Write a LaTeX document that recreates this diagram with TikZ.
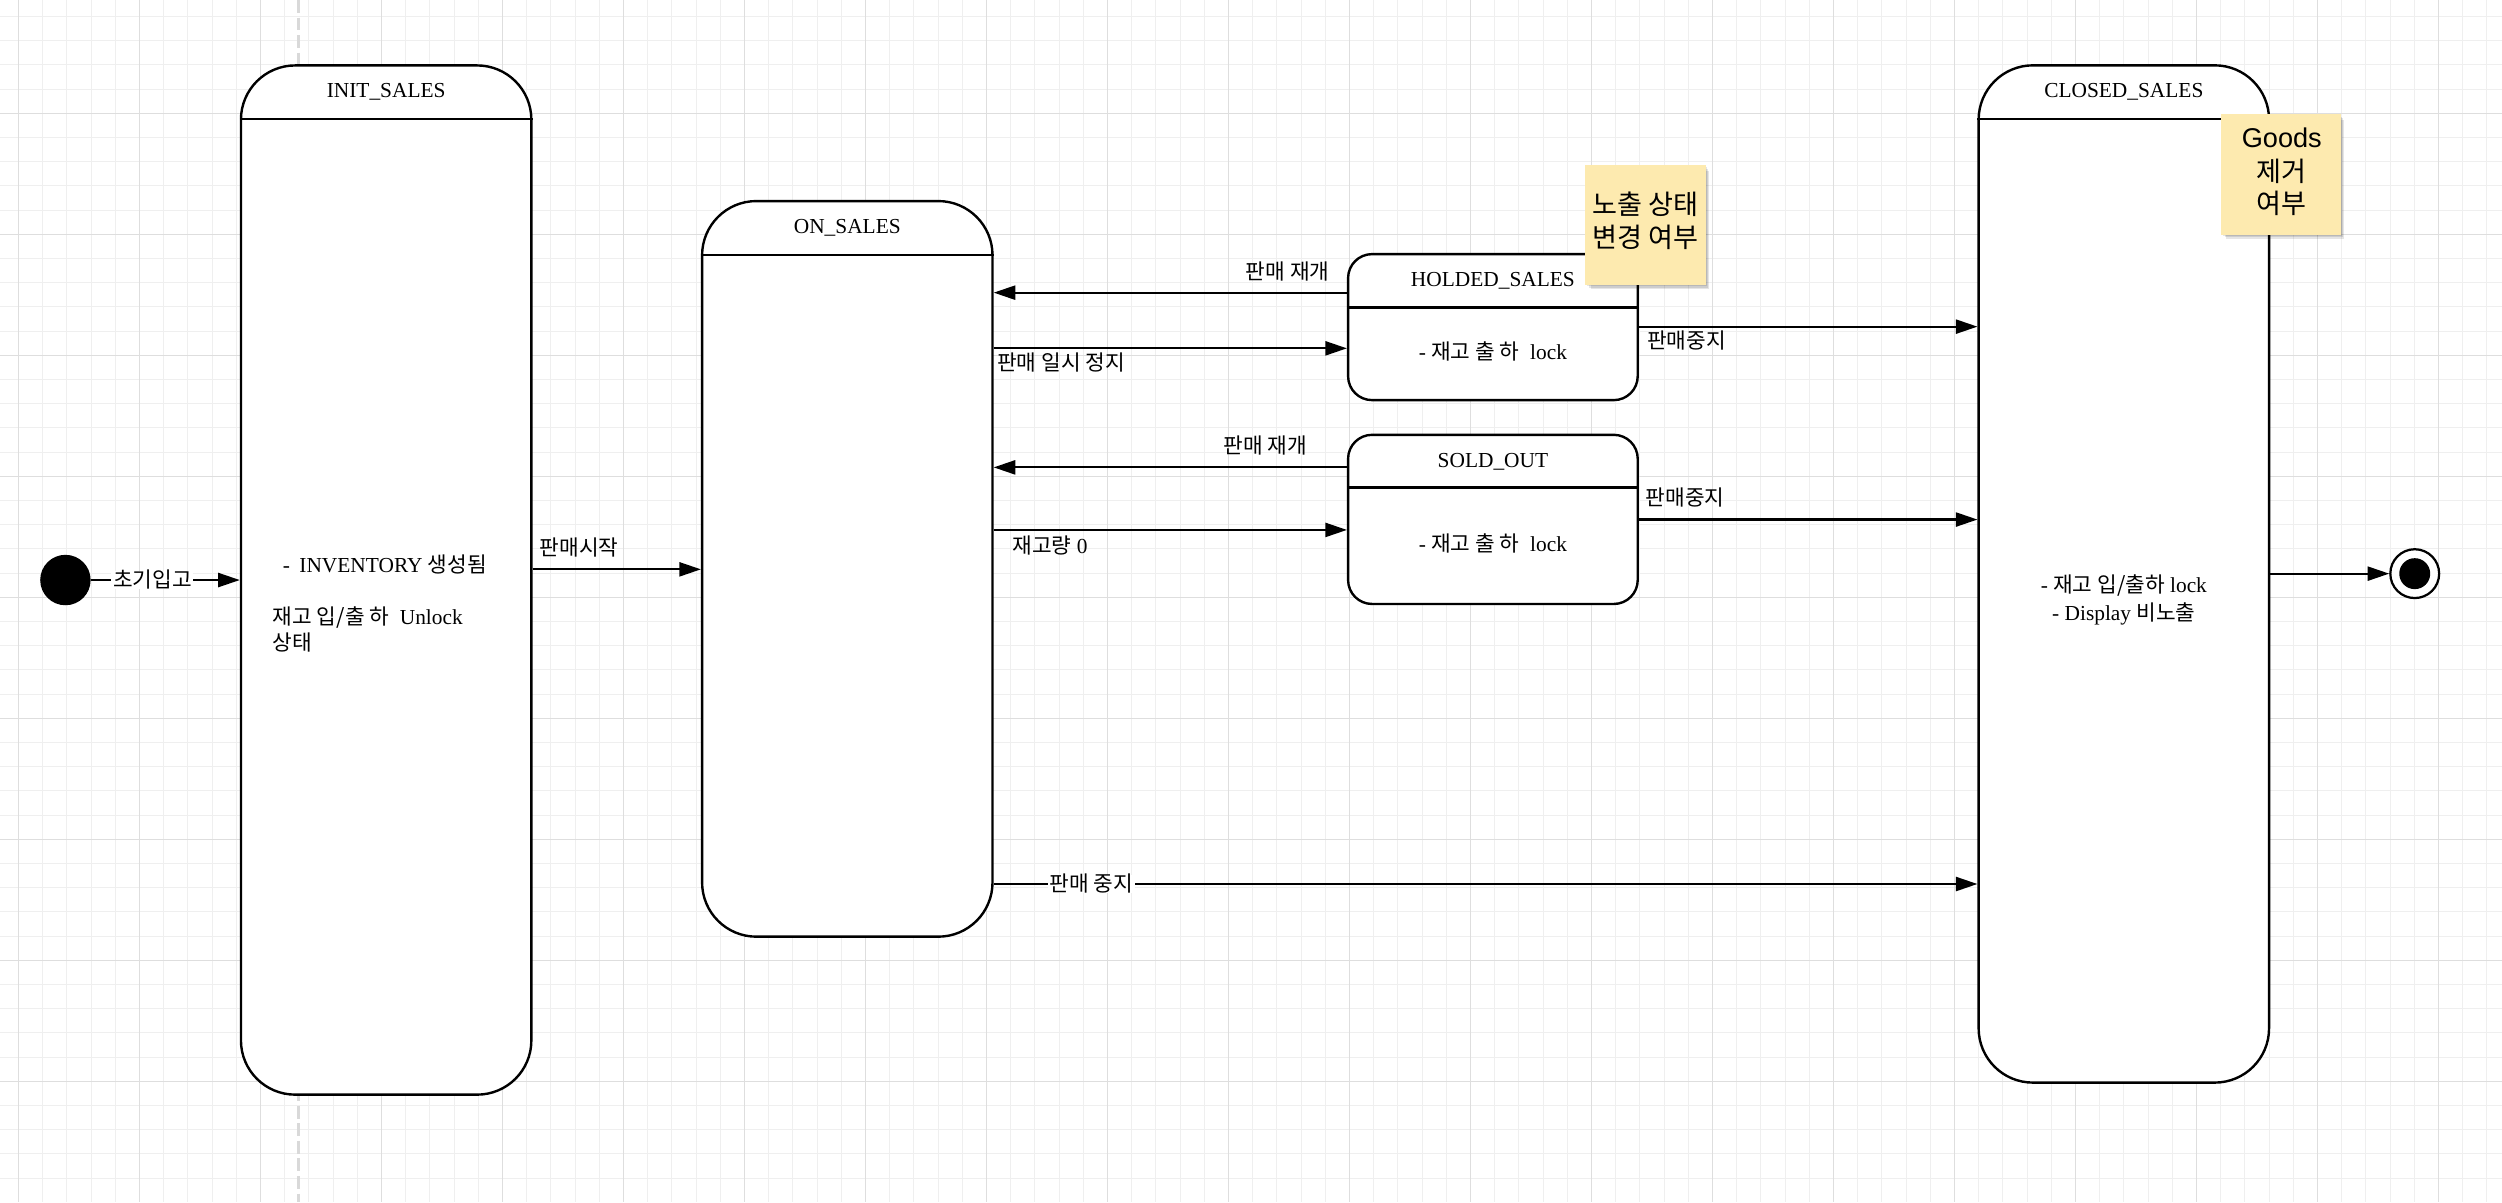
\documentclass[tikz,border=0pt]{standalone}
\usepackage{fontspec}
\setmainfont{Liberation Serif}
\newfontfamily\krfont{Noto Sans CJK KR}
\newfontfamily\notefont{Liberation Sans}
\usetikzlibrary{arrows.meta}
\definecolor{gridminor}{HTML}{EFEFEF}
\definecolor{gridmajor}{HTML}{DEDEDE}
\definecolor{dashgray}{HTML}{D9D9D9}
\definecolor{notefill}{RGB}{253,234,175}
\newcommand{\kor}[1]{{\krfont\fontsize{13.4}{15}\selectfont #1}}
\newcommand{\kornote}[1]{{\krfont\fontsize{17}{19}\selectfont #1}}
\begin{document}
\begin{tikzpicture}[x=1pt,y=-1pt,
  statebox/.style={draw=black, line width=1.5pt, fill=white, rounded corners=34pt, inner sep=0pt},
  smallbox/.style={statebox, rounded corners=15pt},
  hdr/.style={line width=1.5pt},
  title/.style={font=\fontsize{13.4}{16}\selectfont, inner sep=0pt, text height=9pt, text depth=0pt},
  lbl/.style={font=\fontsize{13.4}{16}\selectfont, inner sep=1pt, text height=9.5pt, text depth=0pt},
  trans/.style={line width=1.35pt, -{Triangle[length=13.5pt,width=8.8pt]}},
  note/.style={fill=notefill, inner sep=0pt},
  notetext/.style={font=\notefont\fontsize{17}{19}\selectfont, inner sep=0pt, text height=12pt, text depth=0pt},
  shadowbox/.style={fill=black, opacity=0.10}
]
% background and bounding box
\fill[white] (0,0) rectangle (1568,753.3);
\useasboundingbox (0,0) rectangle (1568,753.3);
% grid
\foreach \i in {0,...,102} {
  \pgfmathsetmacro\gx{11.6+\i*15.166}
  \draw[gridminor, line width=0.6pt] (\gx,0) -- (\gx,753.3);
}
\foreach \j in {0,...,48} {
  \pgfmathsetmacro\gy{10.3+\j*15.166}
  \draw[gridminor, line width=0.6pt] (0,\gy) -- (1568,\gy);
}
\foreach \i in {0,...,20} {
  \pgfmathsetmacro\gx{11.6+\i*75.83}
  \draw[gridmajor, line width=0.7pt] (\gx,0) -- (\gx,753.3);
}
\foreach \j in {0,...,8} {
  \pgfmathsetmacro\gy{71.0+\j*75.83}
  \draw[gridmajor, line width=0.7pt] (0,\gy) -- (1568,\gy);
}
% dashed guide line
\draw[dashgray, line width=2pt, dash pattern=on 8pt off 3pt] (186.9,0) -- (186.9,753.3);

% helper coordinates
\coordinate (yA) at (0,183.4);
\coordinate (yB) at (0,218.3);
\coordinate (yC) at (0,292.9);
\coordinate (yD) at (0,332.1);
\coordinate (yE) at (0,204.7);
\coordinate (yF) at (0,325.6);
\coordinate (yG) at (0,554);
\coordinate (yH) at (0,356.8);

% states
\node[statebox, minimum width=182pt, minimum height=645pt] (init) at (242,363.5) {};
\draw[hdr] (init.west |- 0,74.4) -- (init.east |- 0,74.4);
\node[title] (initT) at (242,56.6) {INIT\_SALES};
\node[lbl, anchor=west] (initB1) at (176,354) {-\hspace{6pt}INVENTORY \kor{생성됨}};
\node[lbl, anchor=west] (initB2) at (169.8,386.4) {\kor{재고 입/출 하}\ \ Unlock};
\node[lbl, anchor=west] (initB3) at (169.8,402.7) {\kor{상태}};

\node[statebox, minimum width=182pt, minimum height=461pt] (on) at (531,356.5) {};
\draw[hdr] (on.west |- 0,159.8) -- (on.east |- 0,159.8);
\node[title] (onT) at (531,141.6) {ON\_SALES};

\node[smallbox, minimum width=181.5pt, minimum height=91.5pt] (holded) at (935.6,205) {};
\draw[hdr] (holded.west |- 0,192.8) -- (holded.east |- 0,192.8);
\node[title] (holdedT) at (935.6,174.8) {HOLDED\_SALES};
\node[lbl] (holdedB) at (935.6,220.4) {-~\kor{재고 출 하}\ \ lock};

\node[smallbox, minimum width=181.5pt, minimum height=106pt] (sold) at (935.6,325.5) {};
\draw[hdr] (sold.west |- 0,305.6) -- (sold.east |- 0,305.6);
\node[title] (soldT) at (935.6,288.3) {SOLD\_OUT};
\node[lbl] (soldB) at (935.6,341.1) {-~\kor{재고 출 하}\ \ lock};

\node[statebox, minimum width=182pt, minimum height=637.5pt] (closed) at (1331,359.7) {};
\draw[hdr] (closed.west |- 0,74.5) -- (closed.east |- 0,74.5);
\node[title] (closedT) at (1331,56.5) {CLOSED\_SALES};
\node[lbl] (closedB1) at (1331,366.5) {-~{\krfont\fontsize{13.4}{15}\selectfont 재고 입/출하}~lock};
\node[lbl] (closedB2) at (1331,383.9) {-~Display~{\krfont\fontsize{13.4}{15}\selectfont 비노출}};

% initial and final
\node[circle, fill=black, minimum size=31.6pt, inner sep=0pt] (start) at (41,363.5) {};
\node[circle, draw=black, line width=1.4pt, fill=white, minimum size=30.6pt, inner sep=0pt] (end) at (1513.3,359.5) {};
\node[circle, fill=black, minimum size=19.4pt, inner sep=0pt] (endin) at (end) {};

% transitions
\draw[trans] (start) -- (init.west |- start);
\node[lbl, fill=white] (l0) at (95.5,363.5) {\kor{초기입고}};
\draw[trans] (init.east |- yH) -- (on.west |- yH);
\node[lbl] (l1) at (363,343.6) {\kor{판매시작}};
\draw[trans] (holded.west |- yA) -- (on.east |- yA);
\node[lbl] (l2) at (807,170.2) {\kor{판매 재개}};
\draw[trans] (on.east |- yB) -- (holded.west |- yB);
\node[lbl] (l3) at (665,227.7) {\kor{판매 일시 정지}};
\draw[trans] (sold.west |- yC) -- (on.east |- yC);
\node[lbl] (l4) at (793,279.5) {\kor{판매 재개}};
\draw[trans] (on.east |- yD) -- (sold.west |- yD);
\node[lbl] (l5) at (658,342) {\kor{재고량}~0};
\draw[trans] (holded.east |- yE) -- (closed.west |- yE);
\node[lbl] (l6) at (1057,213.5) {\kor{판매중지}};
\draw[trans] (sold.east |- yF) -- (closed.west |- yF);
\node[lbl] (l7) at (1056,312.3) {\kor{판매중지}};
\draw[trans] (on.east |- yG) -- (closed.west |- yG);
\node[lbl, fill=white] (l8) at (684,554) {\kor{판매 중지}};
\draw[trans] (closed.east |- end) -- (end);

% sticky notes with soft shadows
\foreach \d in {1.0,2.0,3.0} {
  \fill[shadowbox] (993.3+\d+0.5,103.4+\d+0.5) rectangle (1069.1+\d*0.6,178.6+\d*0.9);
  \fill[shadowbox] (1391.8+\d+0.5,71.6+\d+0.5) rectangle (1467.3+\d*0.6,147+\d*0.9);
}
\node[note, minimum width=75.8pt, minimum height=75.2pt] (note1) at (1031.2,141) {};
\node[notetext] (n1a) at (1031.3,128.5) {\kornote{노출 상태}};
\node[notetext] (n1b) at (1031.3,148.8) {\kornote{변경 여부}};

\node[note, minimum width=75.5pt, minimum height=75.4pt] (note2) at (1429.5,109.3) {};
\node[notetext] (n2a) at (1430,86.4) {Goods};
\node[notetext] (n2b) at (1430,107.8) {\kornote{제거}};
\node[notetext] (n2c) at (1430,128) {\kornote{여부}};
\end{tikzpicture}
\end{document}
